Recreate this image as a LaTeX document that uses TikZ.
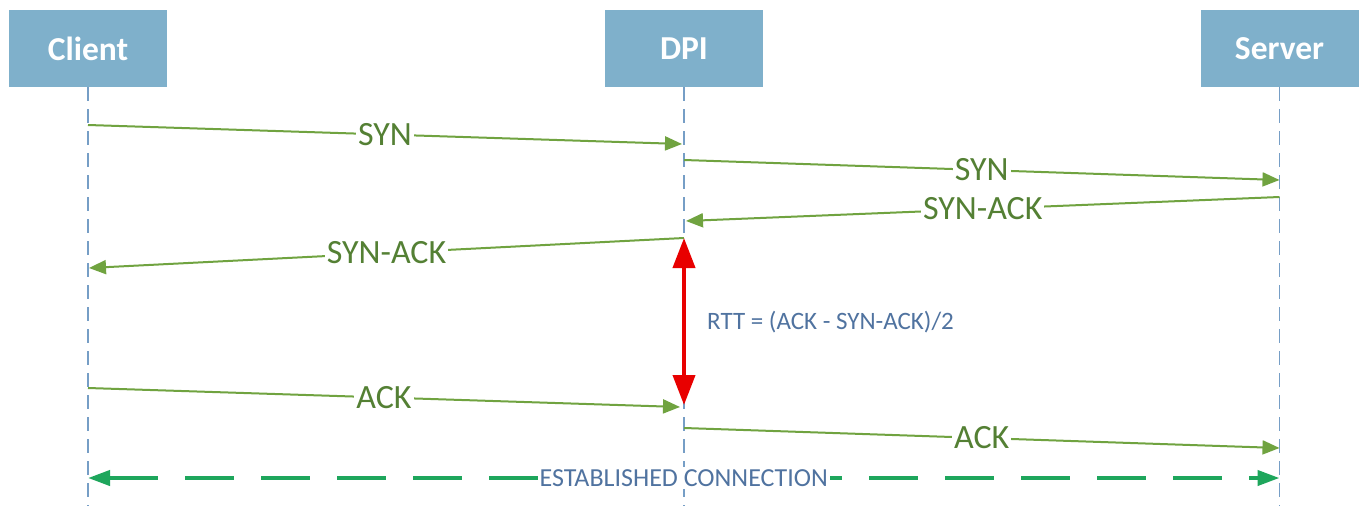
\documentclass[tikz,border=0pt]{standalone}
\usepackage{fontspec}
\setmainfont{Carlito}
\usetikzlibrary{arrows.meta}
\definecolor{boxfill}{RGB}{127,176,203}
\definecolor{lifecol}{RGB}{118,158,198}
\definecolor{msgline}{RGB}{112,163,64}
\definecolor{msgtext}{RGB}{84,128,52}
\definecolor{estcol}{RGB}{30,166,92}
\definecolor{rttred}{RGB}{232,0,0}
\definecolor{infotext}{RGB}{80,115,160}
\tikzset{
  actor/.style={fill=boxfill, draw=none, minimum width=158pt, minimum height=77pt, inner sep=0pt,
    text=white, font=\fontsize{33.5}{33.5}\selectfont\bfseries},
  lifeline/.style={draw=lifecol, line width=1.5pt, dash pattern=on 14pt off 8pt},
  msg/.style={draw=msgline, line width=2pt, -{Triangle[length=17pt,width=14pt]}},
  msglabel/.style={midway, fill=white, inner sep=2pt, text=msgtext, font=\fontsize{34}{34}\selectfont},
  estab/.style={draw=estcol, line width=4pt, dash pattern=on 49pt off 27pt,
    {Triangle[length=22pt,width=15pt]}-{Triangle[length=22pt,width=15pt]}},
  estlabel/.style={midway, fill=white, inner sep=2pt, text=infotext, font=\fontsize{26}{26}\selectfont},
  rtt/.style={draw=rttred, line width=4pt, {Triangle[length=30pt,width=22pt]}-{Triangle[length=30pt,width=22pt]}},
  rttlabel/.style={anchor=west, inner sep=0pt, text=infotext, font=\fontsize{25}{25}\selectfont}
}
\begin{document}
\begin{tikzpicture}[x=1pt,y=-1pt]
\useasboundingbox (0,0) rectangle (1365,506);
\fill[white] (0,0) rectangle (1365,506);
% actors
\node[actor] (client) at (88,48.5) {Client};
\node[actor] (dpi) at (684,48.5) {DPI};
\node[actor] (server) at (1279.5,48.5) {Server};
% lifeline ends
\coordinate (cb) at (88,506);
\coordinate (db) at (684,506);
\coordinate (sb) at (1279.5,506);
\draw[lifeline] (client.south) -- (cb);
\draw[lifeline] (dpi.south) -- (db);
\draw[lifeline] (server.south) -- (sb);
% message end points
\coordinate (m1a) at (88,125);   \coordinate (m1b) at (682,144);
\coordinate (m2a) at (684,160);  \coordinate (m2b) at (1279.5,180);
\coordinate (m3a) at (1279.5,197); \coordinate (m3b) at (686,221);
\coordinate (m4a) at (684,238);  \coordinate (m4b) at (89,268);
\coordinate (m5a) at (88,388);   \coordinate (m5b) at (680,407);
\coordinate (m6a) at (684,428);  \coordinate (m6b) at (1279.5,448);
\draw[msg] (m1a) -- node[msglabel] {SYN} (m1b);
\draw[msg] (m2a) -- node[msglabel] {SYN} (m2b);
\draw[msg] (m3a) -- node[msglabel] {SYN-ACK} (m3b);
\draw[msg] (m4a) -- node[msglabel] {SYN-ACK} (m4b);
\draw[msg] (m5a) -- node[msglabel] {ACK} (m5b);
\draw[msg] (m6a) -- node[msglabel] {ACK} (m6b);
% RTT
\coordinate (r1) at (684,238);
\coordinate (r2) at (684,405);
\draw[rtt] (r1) -- (r2);
\node[rttlabel] (rttl) at (707,322) {RTT = (ACK - SYN-ACK)/2};
% established connection
\coordinate (e1) at (88,478);
\coordinate (e2) at (1279.5,478);
\draw[estab] (e1) -- node[estlabel] {ESTABLISHED CONNECTION} (e2);
\end{tikzpicture}
\end{document}
